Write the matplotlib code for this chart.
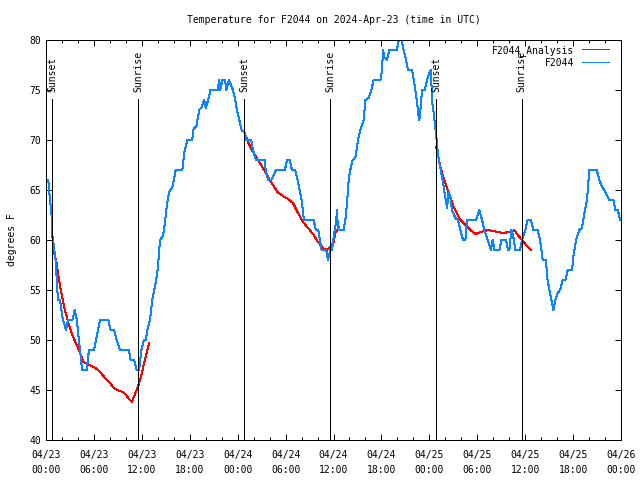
import numpy as np
import pandas as pd
import matplotlib
matplotlib.use('Agg')
import matplotlib.pyplot as plt
import matplotlib.dates as mdates

plt.rcParams['font.family'] = ['DejaVu Sans Mono']
plt.rcParams['font.size'] = 7

start = pd.Timestamp('2024-04-23 00:00')

# observed temperature (hours since 04/23 00:00 UTC, degrees F)
obs_hours = [0.29, 0.37, 0.55, 0.7, 0.78, 1.0, 1.2, 1.33, 1.5, 1.75,
             2.05, 2.5, 2.75, 3.3, 3.6, 3.85, 4.13, 4.3, 4.51, 5.09,
             5.38, 6.01, 6.43, 6.76, 7.8, 8.1, 8.52, 8.85, 9.27, 10.39,
             10.6, 11.02, 11.35, 11.65, 11.94, 12.27, 12.5, 12.69, 13.02, 13.31,
             13.73, 14.02, 14.27, 14.57, 14.78, 15.11, 15.4, 15.82, 16.24, 17.07,
             17.3, 17.7, 18.3, 18.5, 18.8, 19.2, 19.5, 19.8, 20.0, 20.3,
             20.6, 21.5, 21.7, 21.8, 22.1, 22.4, 22.6, 22.9, 23.4, 23.7,
             23.9, 24.2, 24.5, 24.9, 25.1, 25.7, 25.9, 26.3, 27.4, 27.5,
             27.8, 28.2, 28.8, 29.9, 30.2, 30.5, 30.8, 31.2, 31.5, 32.0,
             32.3, 33.5, 33.8, 34.1, 34.5, 35.1, 35.3, 35.6, 35.81, 36.02,
             36.31, 36.44, 36.56, 37.27, 37.48, 37.69, 37.9, 38.1, 38.4, 38.73,
             39.07, 39.36, 39.78, 39.99, 40.4, 40.74, 41.03, 41.87, 42.08, 42.2,
             42.41, 42.7, 42.99, 43.95, 44.16, 44.5, 44.79, 45.08, 45.33, 45.83,
             46.04, 46.25, 46.46, 46.58, 46.75, 46.88, 47.08, 47.41, 47.71, 48.0,
             48.21, 48.33, 48.54, 48.75, 48.92, 49.09, 49.25, 49.5, 49.8, 50.0,
             50.21, 50.42, 50.63, 50.84, 51.26, 51.59, 51.88, 52.22, 52.51, 52.72,
             53.84, 54.26, 54.6, 54.89, 55.3, 55.72, 55.93, 56.14, 56.77, 57.02,
             57.6, 57.85, 58.02, 58.27, 58.52, 58.77, 59.36, 59.61, 60.02, 60.31,
             60.73, 61.02, 61.56, 61.86, 62.2, 62.6, 62.8, 63.11, 63.36, 63.53,
             63.78, 64.07, 64.37, 64.7, 65.03, 65.33, 65.87, 66.03, 66.37, 66.79,
             67.12, 67.41, 67.74, 68.04, 68.96, 69.29, 69.63, 69.92, 70.55, 71.05,
             71.3, 71.6, 71.89]
obs_temp = [66, 65, 63.7, 62.5, 60.5, 59.3, 58, 56.3, 54, 54,
            52.3, 51, 52, 52, 53, 52, 50, 48.7, 47, 47,
            49, 49, 50.7, 52, 52, 51, 51, 50, 49, 49,
            48, 48, 47, 47, 49, 50, 50, 51, 52, 54,
            55.7, 57.3, 60, 60.3, 61, 63.3, 64.8, 65.3, 67, 67,
            68.7, 70, 70, 71.2, 71.3, 73, 73.3, 74, 73.2, 74,
            75, 75, 76, 75, 76, 76, 75, 76, 75, 74,
            73, 72, 71, 70.7, 70, 70, 69, 68, 68, 67,
            66, 66, 67, 67, 68, 68, 67, 67, 66, 64,
            62, 62, 61, 61, 59, 59, 58, 59, 59, 60.3,
            61.7, 63, 61, 61, 62, 63.7, 66, 67, 68, 68.2,
            70, 71, 72, 74, 74.2, 75, 76, 76, 77, 79,
            78.2, 78, 79, 79, 80, 80, 79, 78, 77, 77,
            76, 75, 73.8, 72.8, 72, 73, 75, 75, 76, 76.7,
            77, 74, 72.7, 71.2, 70, 68.5, 67.7, 66.7, 65.3, 64.3,
            63.2, 64.8, 64.3, 63, 62.2, 62, 61, 60, 60, 62,
            62, 63, 62, 61, 60, 59, 60, 59, 59, 60,
            60, 59, 59, 61, 60.3, 59, 59, 60, 61, 62,
            62, 61, 61, 60, 58, 58, 56, 54.7, 53.7, 53,
            54, 54.7, 55, 56, 56, 57, 57, 58.3, 60, 61,
            61.2, 62.7, 64, 67, 67, 66, 65.3, 65, 64, 64,
            63, 63, 62]

# analysis, one curve per night
ana1_hours = [0.79, 1.0, 1.3, 1.63, 1.92, 2.3, 2.85, 3.4, 3.9, 4.3,
              4.7, 5.45, 6.0, 6.55, 7.3, 7.9, 8.5, 8.9, 9.6, 10.0,
              10.4, 10.75, 11.1, 11.5, 11.9, 12.25, 12.6, 12.9]
ana1_temp = [60.5, 58.7, 57.8, 56, 54.7, 53.2, 51.6, 50.3, 49.4, 48.6,
             47.8, 47.5, 47.3, 47.0, 46.3, 45.8, 45.2, 45.0, 44.8, 44.5,
             44.1, 43.8, 44.5, 45.3, 46.3, 47.6, 48.7, 49.7]
ana2_hours = [24.88, 25.29, 25.92, 26.55, 27.17, 27.8, 28.42, 28.97, 29.67, 30.3,
              30.93, 31.56, 32.18, 32.81, 33.43, 34.06, 34.69, 35.1, 35.64, 36.02,
              36.23, 36.65]
ana2_temp = [70.7, 69.8, 68.8, 68, 67.2, 66.3, 65.5, 64.8, 64.4, 64.1,
             63.7, 62.7, 61.8, 61.2, 60.6, 59.8, 59.2, 59.0, 59.3, 59.8,
             60.7, 61.3]
ana3_hours = [48.84, 49.09, 49.37, 49.8, 50.21, 50.63, 51.05, 51.46, 51.88, 52.51,
              53.13, 53.8, 54.47, 55.3, 55.93, 56.56, 57.18, 58.02, 58.65, 59.06,
              59.61, 60.1, 60.73]
ana3_temp = [69.3, 68.5, 67.3, 66.2, 65.2, 64.3, 63.3, 62.7, 62, 61.5,
             61, 60.6, 60.8, 61, 60.9, 60.8, 60.7, 60.8, 61, 60.5,
             60, 59.5, 59]

sun_hours = [0.79, 11.56, 24.8, 35.6, 48.87, 59.55]
sun_labels = ['Sunset', 'Sunrise', 'Sunset', 'Sunrise', 'Sunset', 'Sunrise']


def to_time(h):
    return start + pd.to_timedelta(np.array(h), unit='h')


fig = plt.figure(figsize=(6.4, 4.8), dpi=100)
ax = fig.add_axes([46/640, 40/480, 575/640, 400/480])

red = '#ff0000'
blue = '#0a84ff'
lw = 0.72
first = True
for hh, tt in [(ana1_hours, ana1_temp), (ana2_hours, ana2_temp), (ana3_hours, ana3_temp)]:
    ax.plot(to_time(hh), tt, c=red, lw=lw, antialiased=False,
            label='F2044_Analysis' if first else None)
    first = False
ax.plot(to_time(obs_hours), obs_temp, c=blue, lw=lw, antialiased=False, label='F2044')

for h, lab in zip(sun_hours, sun_labels):
    t = to_time([h])[0]
    ax.vlines(t, 40, 74.1, colors='black', lw=lw, antialiased=False, zorder=3)
    ax.text(t, 74.8, lab, rotation=90, ha='center', va='bottom')

ax.set_xlim(start, start + pd.Timedelta(hours=72))
ax.set_ylim(40, 80)
ax.set_yticks(np.arange(40, 81, 5))
ax.xaxis.set_major_locator(mdates.HourLocator(byhour=[0, 6, 12, 18]))
ax.xaxis.set_minor_locator(mdates.HourLocator(interval=2))
ax.xaxis.set_major_formatter(mdates.DateFormatter('%m/%d\n%H:%M'))
ax.tick_params(which='both', direction='in', top=True, right=True, width=0.72)
ax.tick_params(which='major', length=4.5)
ax.tick_params(axis='x', which='major', pad=7)
ax.tick_params(which='minor', length=2.5)
for lab in ax.get_xticklabels():
    lab.set_linespacing(1.6)
for s in ax.spines.values():
    s.set_linewidth(0.72)

ax.set_title('Temperature for F2044 on 2024-Apr-23 (time in UTC)', fontsize=7, pad=12)
ax.set_ylabel('degrees F', labelpad=9)

ax.legend(loc='upper right', frameon=False, markerfirst=False, fontsize=7,
          handlelength=2.8, handletextpad=0.8, labelspacing=0.2,
          borderaxespad=0.2, borderpad=0.3,
          bbox_to_anchor=(1 - 7/575, 1 + 0/400))

plt.savefig('out.png', dpi=100)
